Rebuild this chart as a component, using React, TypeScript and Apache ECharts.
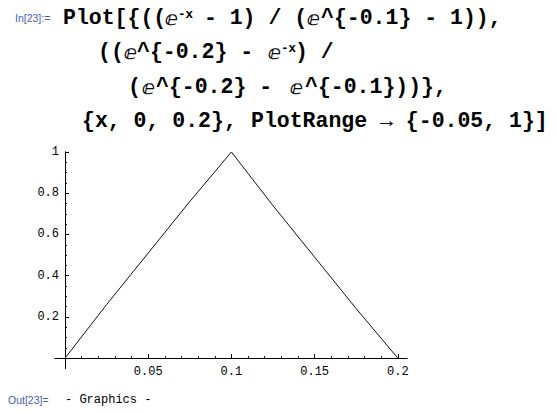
import React, { useEffect, useRef } from "react";
import * as echarts from "echarts";

// Sample points of the two pieces of the hat function
const RISING_X = [0, 0.025, 0.05, 0.075, 0.1];
const RISING_Y = [0, 0.26, 0.51, 0.76, 1];
const FALLING_X = [0.1, 0.125, 0.15, 0.175, 0.2];
const FALLING_Y = [1, 0.74, 0.49, 0.24, 0];

// Axis ticks
const X_MAJOR_TICKS = [0.05, 0.1, 0.15, 0.2];
const X_MINOR_TICKS = [
  0.01, 0.02, 0.03, 0.04, 0.06, 0.07, 0.08, 0.09, 0.11, 0.12, 0.13, 0.14,
  0.16, 0.17, 0.18, 0.19,
];
const Y_MAJOR_TICKS = [0.2, 0.4, 0.6, 0.8, 1];
const Y_MINOR_TICKS = [
  0.05, 0.1, 0.15, 0.25, 0.3, 0.35, 0.45, 0.5, 0.55, 0.65, 0.7, 0.75, 0.85,
  0.9, 0.95,
];

// Notebook input / output text. The input cell is laid out as runs:
// "code" = bold monospace, "e" = exponential e, "sup" = superscript.
const INPUT_LABEL = "In[23]:=";
const OUTPUT_LABEL = "Out[23]=";
const CODE_RUNS = [
  // line 1
  { x: 63, y: 18, kind: "code", text: "Plot[{((" },
  { x: 165, y: 18, kind: "e", text: "ⅇ" },
  { x: 178, y: 14.5, kind: "sup", text: "-x" },
  { x: 191, y: 18, kind: "code", text: " - 1) / (" },
  { x: 307, y: 18, kind: "e", text: "ⅇ" },
  { x: 321, y: 18, kind: "code", text: "^{-0.1} - 1))," },
  // line 2
  { x: 98, y: 52, kind: "code", text: "((" },
  { x: 124, y: 52, kind: "e", text: "ⅇ" },
  { x: 137, y: 52, kind: "code", text: "^{-0.2} - " },
  { x: 268, y: 52, kind: "e", text: "ⅇ" },
  { x: 281, y: 48.5, kind: "sup", text: "-x" },
  { x: 295, y: 52, kind: "code", text: ") /" },
  // line 3
  { x: 128, y: 87, kind: "code", text: "(" },
  { x: 142, y: 87, kind: "e", text: "ⅇ" },
  { x: 156, y: 87, kind: "code", text: "^{-0.2} - " },
  { x: 290, y: 87, kind: "e", text: "ⅇ" },
  { x: 305, y: 87, kind: "code", text: "^{-0.1}))}," },
  // line 4
  { x: 82, y: 121, kind: "code", text: "{x, 0, 0.2}," },
  { x: 251, y: 121, kind: "code", text: "PlotRange → {-0.05, 1}]" },
];
const OUTPUT_TEXT = "- Graphics -";

const MONO = "Liberation Mono, DejaVu Sans Mono, monospace";
const SANS = "Liberation Sans, Arial, sans-serif";
const LABEL_BLUE = "#4a5bb8";

const RUN_FONTS: Record<string, { fontFamily: string; fontSize: number }> = {
  code: { fontFamily: MONO, fontSize: 21.5 },
  e: { fontFamily: "DejaVu Sans, sans-serif", fontSize: 19 },
  sup: { fontFamily: MONO, fontSize: 12.5 },
};

const X_MIN = -0.006;
const X_MAX = 0.2055;
const Y_MIN = -0.05;
const Y_MAX = 1;

export default function App() {
  const ref = useRef<HTMLDivElement>(null);

  useEffect(() => {
    const chart = echarts.init(ref.current!, null, { renderer: "svg" });

    const codeTexts = CODE_RUNS.map((run) => ({
      type: "text",
      x: run.x,
      y: run.y,
      style: {
        text: run.text,
        ...RUN_FONTS[run.kind],
        fontWeight: "bold",
        fill: "#000",
        align: "left",
        verticalAlign: "middle",
      },
    }));

    const mainTick = {
      show: true,
      inside: true,
      length: 4,
      lineStyle: { color: "#000", width: 1 },
    };
    const minorTick = {
      show: true,
      inside: true,
      length: 2,
      lineStyle: { color: "#000", width: 1 },
    };
    const tickLabel = {
      fontFamily: MONO,
      fontSize: 12,
      color: "#000",
    };

    chart.setOption({
      animation: false,
      backgroundColor: "#fff",
      grid: {
        left: 55,
        right: 149,
        top: 152,
        bottom: 43.5,
        containLabel: false,
        outerBoundsMode: "none",
      },
      xAxis: [
        {
          type: "value",
          min: X_MIN,
          max: X_MAX,
          position: "bottom",
          axisLine: {
            show: true,
            onZero: true,
            onZeroAxisIndex: 0,
            lineStyle: { color: "#000", width: 1 },
          },
          axisTick: { ...mainTick, customValues: X_MAJOR_TICKS },
          axisLabel: {
            ...tickLabel,
            margin: -2.5,
            customValues: X_MAJOR_TICKS,
            formatter: (v: number) => String(v),
          },
          splitLine: { show: false },
        },
        {
          type: "value",
          min: X_MIN,
          max: X_MAX,
          position: "bottom",
          axisLine: {
            show: true,
            onZero: true,
            onZeroAxisIndex: 0,
            lineStyle: { color: "#000", width: 1 },
          },
          axisTick: { ...minorTick, customValues: X_MINOR_TICKS },
          axisLabel: { show: false },
          splitLine: { show: false },
        },
      ],
      yAxis: [
        {
          type: "value",
          min: Y_MIN,
          max: Y_MAX,
          position: "left",
          axisLine: {
            show: true,
            onZero: true,
            onZeroAxisIndex: 0,
            lineStyle: { color: "#000", width: 1 },
          },
          axisTick: { ...mainTick, customValues: Y_MAJOR_TICKS },
          axisLabel: {
            ...tickLabel,
            margin: -4,
            customValues: Y_MAJOR_TICKS,
            formatter: (v: number) => String(v),
          },
          splitLine: { show: false },
        },
        {
          type: "value",
          min: Y_MIN,
          max: Y_MAX,
          position: "left",
          axisLine: {
            show: true,
            onZero: true,
            onZeroAxisIndex: 0,
            lineStyle: { color: "#000", width: 1 },
          },
          axisTick: { ...minorTick, customValues: Y_MINOR_TICKS },
          axisLabel: { show: false },
          splitLine: { show: false },
        },
      ],
      series: [
        {
          type: "line",
          xAxisIndex: 0,
          yAxisIndex: 0,
          showSymbol: false,
          symbol: "none",
          lineStyle: { color: "#111", width: 1 },
          data: RISING_X.map((x, i) => [x, RISING_Y[i]]),
        },
        {
          type: "line",
          xAxisIndex: 0,
          yAxisIndex: 0,
          showSymbol: false,
          symbol: "none",
          lineStyle: { color: "#111", width: 1 },
          data: FALLING_X.map((x, i) => [x, FALLING_Y[i]]),
        },
      ],
      graphic: [
        {
          type: "text",
          x: 15,
          y: 18,
          style: {
            text: INPUT_LABEL,
            fontFamily: SANS,
            fontSize: 10.5,
            fill: LABEL_BLUE,
            align: "left",
            verticalAlign: "middle",
          },
        },
        ...codeTexts,
        {
          type: "text",
          x: 8,
          y: 400,
          style: {
            text: OUTPUT_LABEL,
            fontFamily: SANS,
            fontSize: 10.5,
            fill: LABEL_BLUE,
            align: "left",
            verticalAlign: "middle",
          },
        },
        {
          type: "text",
          x: 65,
          y: 400,
          style: {
            text: OUTPUT_TEXT,
            fontFamily: MONO,
            fontSize: 12,
            fill: "#000",
            align: "left",
            verticalAlign: "middle",
          },
        },
      ],
    });

    return () => chart.dispose();
  }, []);

  return (
    <div
      ref={ref}
      style={{
        position: "fixed",
        left: 0,
        top: 0,
        width: 556,
        height: 412,
        background: "#fff",
      }}
    />
  );
}
